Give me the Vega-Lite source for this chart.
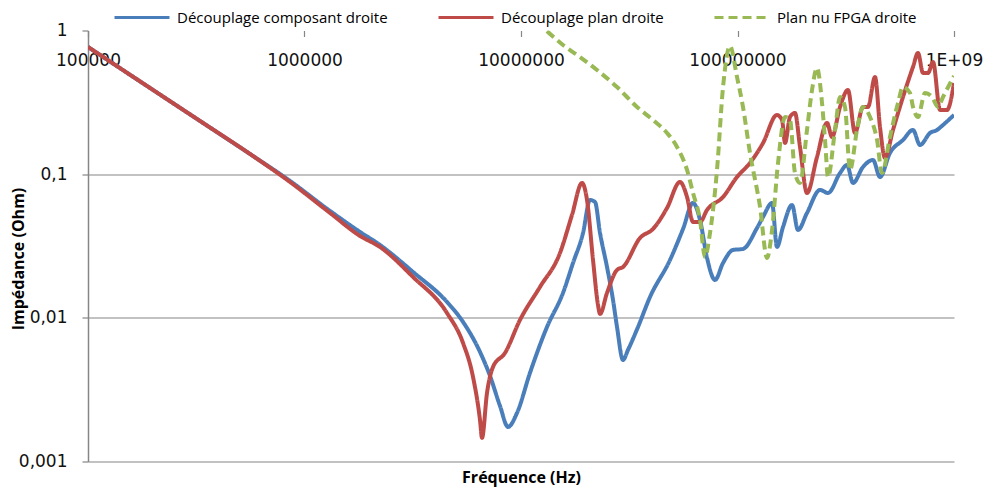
{
  "$schema": "https://vega.github.io/schema/vega-lite/v6.json",
  "width": 866,
  "height": 431,
  "autosize": {"type": "none"},
  "padding": {"left": 88, "top": 30.5, "right": 30, "bottom": 26.5},
  "background": "white",
  "config": {"view": {"stroke": null}},
  "datasets": {
    "pts": [
      {"f": 100000, "z": 0.768, "s": "Découplage composant droite"},
      {"f": 193400, "z": 0.398, "s": "Découplage composant droite"},
      {"f": 329100, "z": 0.2346, "s": "Découplage composant droite"},
      {"f": 560200, "z": 0.1382, "s": "Découplage composant droite"},
      {"f": 857000, "z": 0.0897, "s": "Découplage composant droite"},
      {"f": 1312000, "z": 0.05544, "s": "Découplage composant droite"},
      {"f": 1805000, "z": 0.03961, "s": "Découplage composant droite"},
      {"f": 2232000, "z": 0.03216, "s": "Découplage composant droite"},
      {"f": 3171000, "z": 0.02087, "s": "Découplage composant droite"},
      {"f": 4551000, "z": 0.0129, "s": "Découplage composant droite"},
      {"f": 5397000, "z": 0.009366, "s": "Découplage composant droite"},
      {"f": 6465000, "z": 0.005789, "s": "Découplage composant droite"},
      {"f": 7193000, "z": 0.003941, "s": "Découplage composant droite"},
      {"f": 7998000, "z": 0.002437, "s": "Découplage composant droite"},
      {"f": 8710000, "z": 0.00174, "s": "Découplage composant droite"},
      {"f": 9585000, "z": 0.002179, "s": "Découplage composant droite"},
      {"f": 11000000, "z": 0.004135, "s": "Découplage composant droite"},
      {"f": 13190000, "z": 0.008645, "s": "Découplage composant droite"},
      {"f": 15630000, "z": 0.01491, "s": "Découplage composant droite"},
      {"f": 17390000, "z": 0.0241, "s": "Découplage composant droite"},
      {"f": 19340000, "z": 0.03898, "s": "Découplage composant droite"},
      {"f": 20830000, "z": 0.06613, "s": "Découplage composant droite"},
      {"f": 21970000, "z": 0.06405, "s": "Découplage composant droite"},
      {"f": 23170000, "z": 0.03898, "s": "Découplage composant droite"},
      {"f": 24960000, "z": 0.02261, "s": "Découplage composant droite"},
      {"f": 26610000, "z": 0.01332, "s": "Découplage composant droite"},
      {"f": 27760000, "z": 0.008645, "s": "Découplage composant droite"},
      {"f": 29590000, "z": 0.005093, "s": "Découplage composant droite"},
      {"f": 31200000, "z": 0.005977, "s": "Découplage composant droite"},
      {"f": 34720000, "z": 0.008645, "s": "Découplage composant droite"},
      {"f": 39440000, "z": 0.01397, "s": "Découplage composant droite"},
      {"f": 48780000, "z": 0.02529, "s": "Découplage composant droite"},
      {"f": 56020000, "z": 0.04156, "s": "Découplage composant droite"},
      {"f": 62310000, "z": 0.06304, "s": "Découplage composant droite"},
      {"f": 67120000, "z": 0.04801, "s": "Découplage composant droite"},
      {"f": 72330000, "z": 0.02611, "s": "Découplage composant droite"},
      {"f": 78720000, "z": 0.01835, "s": "Découplage composant droite"},
      {"f": 85750000, "z": 0.0241, "s": "Découplage composant droite"},
      {"f": 95340000, "z": 0.02969, "s": "Découplage composant droite"},
      {"f": 106000000, "z": 0.03017, "s": "Découplage composant droite"},
      {"f": 123100000, "z": 0.04223, "s": "Découplage composant droite"},
      {"f": 131200000, "z": 0.05038, "s": "Découplage composant droite"},
      {"f": 144400000, "z": 0.06304, "s": "Découplage composant droite"},
      {"f": 152200000, "z": 0.03114, "s": "Découplage composant droite"},
      {"f": 162300000, "z": 0.04291, "s": "Découplage composant droite"},
      {"f": 178600000, "z": 0.06105, "s": "Découplage composant droite"},
      {"f": 190300000, "z": 0.04089, "s": "Découplage composant droite"},
      {"f": 209400000, "z": 0.0537, "s": "Découplage composant droite"},
      {"f": 240500000, "z": 0.07762, "s": "Découplage composant droite"},
      {"f": 261900000, "z": 0.07398, "s": "Découplage composant droite"},
      {"f": 297600000, "z": 0.1019, "s": "Découplage composant droite"},
      {"f": 320500000, "z": 0.1159, "s": "Découplage composant droite"},
      {"f": 341600000, "z": 0.08686, "s": "Découplage composant droite"},
      {"f": 379900000, "z": 0.1122, "s": "Découplage composant droite"},
      {"f": 422500000, "z": 0.1256, "s": "Découplage composant droite"},
      {"f": 455100000, "z": 0.09561, "s": "Découplage composant droite"},
      {"f": 506100000, "z": 0.1405, "s": "Découplage composant droite"},
      {"f": 581300000, "z": 0.173, "s": "Découplage composant droite"},
      {"f": 646500000, "z": 0.203, "s": "Découplage composant droite"},
      {"f": 696600000, "z": 0.1596, "s": "Découplage composant droite"},
      {"f": 774800000, "z": 0.1935, "s": "Découplage composant droite"},
      {"f": 834600000, "z": 0.203, "s": "Découplage composant droite"},
      {"f": 889700000, "z": 0.22, "s": "Découplage composant droite"},
      {"f": 1000000000, "z": 0.2582, "s": "Découplage composant droite"},

      {"f": 100000, "z": 0.768, "s": "Découplage plan droite"},
      {"f": 193400, "z": 0.398, "s": "Découplage plan droite"},
      {"f": 329100, "z": 0.2346, "s": "Découplage plan droite"},
      {"f": 560200, "z": 0.1382, "s": "Découplage plan droite"},
      {"f": 857000, "z": 0.08825, "s": "Découplage plan droite"},
      {"f": 1312000, "z": 0.0537, "s": "Découplage plan droite"},
      {"f": 1805000, "z": 0.03714, "s": "Découplage plan droite"},
      {"f": 2232000, "z": 0.03114, "s": "Découplage plan droite"},
      {"f": 3171000, "z": 0.01926, "s": "Découplage plan droite"},
      {"f": 4551000, "z": 0.01081, "s": "Découplage plan droite"},
      {"f": 5397000, "z": 0.00669, "s": "Découplage plan droite"},
      {"f": 6002000, "z": 0.003879, "s": "Découplage plan droite"},
      {"f": 6465000, "z": 0.001948, "s": "Découplage plan droite"},
      {"f": 6605000, "z": 0.00146, "s": "Découplage plan droite"},
      {"f": 6966000, "z": 0.003001, "s": "Découplage plan droite"},
      {"f": 7425000, "z": 0.004553, "s": "Découplage plan droite"},
      {"f": 8435000, "z": 0.005697, "s": "Découplage plan droite"},
      {"f": 9894000, "z": 0.00967, "s": "Découplage plan droite"},
      {"f": 12240000, "z": 0.01641, "s": "Découplage plan droite"},
      {"f": 15140000, "z": 0.02829, "s": "Découplage plan droite"},
      {"f": 17200000, "z": 0.052, "s": "Découplage plan droite"},
      {"f": 19130000, "z": 0.08686, "s": "Découplage plan droite"},
      {"f": 20180000, "z": 0.06613, "s": "Découplage plan droite"},
      {"f": 21510000, "z": 0.02529, "s": "Découplage plan droite"},
      {"f": 22680000, "z": 0.01229, "s": "Découplage plan droite"},
      {"f": 23170000, "z": 0.01064, "s": "Découplage plan droite"},
      {"f": 24960000, "z": 0.01491, "s": "Découplage plan droite"},
      {"f": 27760000, "z": 0.02155, "s": "Découplage plan droite"},
      {"f": 29590000, "z": 0.02261, "s": "Découplage plan droite"},
      {"f": 35460000, "z": 0.03597, "s": "Découplage plan droite"},
      {"f": 40710000, "z": 0.04156, "s": "Découplage plan droite"},
      {"f": 47250000, "z": 0.05816, "s": "Découplage plan droite"},
      {"f": 54260000, "z": 0.08825, "s": "Découplage plan droite"},
      {"f": 58460000, "z": 0.06939, "s": "Découplage plan droite"},
      {"f": 62310000, "z": 0.0465, "s": "Découplage plan droite"},
      {"f": 67120000, "z": 0.0465, "s": "Découplage plan droite"},
      {"f": 72330000, "z": 0.05633, "s": "Découplage plan droite"},
      {"f": 85750000, "z": 0.06939, "s": "Découplage plan droite"},
      {"f": 99470000, "z": 0.09561, "s": "Découplage plan droite"},
      {"f": 114200000, "z": 0.1197, "s": "Découplage plan droite"},
      {"f": 131200000, "z": 0.1649, "s": "Découplage plan droite"},
      {"f": 152200000, "z": 0.2582, "s": "Découplage plan droite"},
      {"f": 160600000, "z": 0.2383, "s": "Découplage plan droite"},
      {"f": 165800000, "z": 0.1649, "s": "Découplage plan droite"},
      {"f": 174800000, "z": 0.25, "s": "Découplage plan droite"},
      {"f": 184300000, "z": 0.2666, "s": "Découplage plan droite"},
      {"f": 194400000, "z": 0.1546, "s": "Découplage plan droite"},
      {"f": 209400000, "z": 0.07398, "s": "Découplage plan droite"},
      {"f": 232900000, "z": 0.1317, "s": "Découplage plan droite"},
      {"f": 259100000, "z": 0.2272, "s": "Découplage plan droite"},
      {"f": 273300000, "z": 0.1815, "s": "Découplage plan droite"},
      {"f": 297600000, "z": 0.2936, "s": "Découplage plan droite"},
      {"f": 323800000, "z": 0.3855, "s": "Découplage plan droite"},
      {"f": 348900000, "z": 0.1935, "s": "Découplage plan droite"},
      {"f": 379900000, "z": 0.2936, "s": "Découplage plan droite"},
      {"f": 400600000, "z": 0.2936, "s": "Découplage plan droite"},
      {"f": 431700000, "z": 0.4748, "s": "Découplage plan droite"},
      {"f": 455100000, "z": 0.2131, "s": "Découplage plan droite"},
      {"f": 480000000, "z": 0.1297, "s": "Découplage plan droite"},
      {"f": 522700000, "z": 0.203, "s": "Découplage plan droite"},
      {"f": 581300000, "z": 0.3446, "s": "Découplage plan droite"},
      {"f": 646500000, "z": 0.5572, "s": "Découplage plan droite"},
      {"f": 682000000, "z": 0.6973, "s": "Découplage plan droite"},
      {"f": 719300000, "z": 0.506, "s": "Découplage plan droite"},
      {"f": 758600000, "z": 0.506, "s": "Découplage plan droite"},
      {"f": 800000000, "z": 0.6036, "s": "Découplage plan droite"},
      {"f": 861900000, "z": 0.2797, "s": "Découplage plan droite"},
      {"f": 928400000, "z": 0.2797, "s": "Découplage plan droite"},
      {"f": 1000000000, "z": 0.4311, "s": "Découplage plan droite"},

      {"f": 13190000, "z": 0.99, "s": "Plan nu FPGA droite"},
      {"f": 15630000, "z": 0.7925, "s": "Plan nu FPGA droite"},
      {"f": 18730000, "z": 0.6539, "s": "Plan nu FPGA droite"},
      {"f": 22440000, "z": 0.5311, "s": "Plan nu FPGA droite"},
      {"f": 27760000, "z": 0.4044, "s": "Plan nu FPGA droite"},
      {"f": 34350000, "z": 0.2936, "s": "Plan nu FPGA droite"},
      {"f": 40710000, "z": 0.2383, "s": "Plan nu FPGA droite"},
      {"f": 47250000, "z": 0.1935, "s": "Plan nu FPGA droite"},
      {"f": 52560000, "z": 0.1546, "s": "Plan nu FPGA droite"},
      {"f": 58460000, "z": 0.107, "s": "Plan nu FPGA droite"},
      {"f": 62310000, "z": 0.07398, "s": "Plan nu FPGA droite"},
      {"f": 67120000, "z": 0.04801, "s": "Plan nu FPGA droite"},
      {"f": 70780000, "z": 0.02653, "s": "Plan nu FPGA droite"},
      {"f": 74650000, "z": 0.03898, "s": "Plan nu FPGA droite"},
      {"f": 80420000, "z": 0.107, "s": "Plan nu FPGA droite"},
      {"f": 85750000, "z": 0.4044, "s": "Plan nu FPGA droite"},
      {"f": 92360000, "z": 0.78, "s": "Plan nu FPGA droite"},
      {"f": 99470000, "z": 0.4748, "s": "Plan nu FPGA droite"},
      {"f": 106000000, "z": 0.2936, "s": "Plan nu FPGA droite"},
      {"f": 114200000, "z": 0.1405, "s": "Plan nu FPGA droite"},
      {"f": 127100000, "z": 0.05909, "s": "Plan nu FPGA droite"},
      {"f": 136900000, "z": 0.02611, "s": "Plan nu FPGA droite"},
      {"f": 144400000, "z": 0.04089, "s": "Plan nu FPGA droite"},
      {"f": 153900000, "z": 0.1197, "s": "Plan nu FPGA droite"},
      {"f": 165800000, "z": 0.25, "s": "Plan nu FPGA droite"},
      {"f": 174800000, "z": 0.2383, "s": "Plan nu FPGA droite"},
      {"f": 184300000, "z": 0.1019, "s": "Plan nu FPGA droite"},
      {"f": 194400000, "z": 0.08686, "s": "Plan nu FPGA droite"},
      {"f": 209400000, "z": 0.203, "s": "Plan nu FPGA droite"},
      {"f": 220900000, "z": 0.3855, "s": "Plan nu FPGA droite"},
      {"f": 232900000, "z": 0.5483, "s": "Plan nu FPGA droite"},
      {"f": 245700000, "z": 0.313, "s": "Plan nu FPGA droite"},
      {"f": 253700000, "z": 0.173, "s": "Plan nu FPGA droite"},
      {"f": 261900000, "z": 0.09561, "s": "Plan nu FPGA droite"},
      {"f": 282100000, "z": 0.203, "s": "Plan nu FPGA droite"},
      {"f": 297600000, "z": 0.3446, "s": "Plan nu FPGA droite"},
      {"f": 313700000, "z": 0.2936, "s": "Plan nu FPGA droite"},
      {"f": 330900000, "z": 0.107, "s": "Plan nu FPGA droite"},
      {"f": 356500000, "z": 0.203, "s": "Plan nu FPGA droite"},
      {"f": 379900000, "z": 0.2936, "s": "Plan nu FPGA droite"},
      {"f": 409400000, "z": 0.25, "s": "Plan nu FPGA droite"},
      {"f": 441100000, "z": 0.173, "s": "Plan nu FPGA droite"},
      {"f": 465000000, "z": 0.1019, "s": "Plan nu FPGA droite"},
      {"f": 506100000, "z": 0.1815, "s": "Plan nu FPGA droite"},
      {"f": 551300000, "z": 0.313, "s": "Plan nu FPGA droite"},
      {"f": 581300000, "z": 0.4044, "s": "Plan nu FPGA droite"},
      {"f": 626300000, "z": 0.3673, "s": "Plan nu FPGA droite"},
      {"f": 646500000, "z": 0.2936, "s": "Plan nu FPGA droite"},
      {"f": 682000000, "z": 0.25, "s": "Plan nu FPGA droite"},
      {"f": 734600000, "z": 0.3673, "s": "Plan nu FPGA droite"},
      {"f": 791400000, "z": 0.3446, "s": "Plan nu FPGA droite"},
      {"f": 843700000, "z": 0.2936, "s": "Plan nu FPGA droite"},
      {"f": 889700000, "z": 0.3446, "s": "Plan nu FPGA droite"},
      {"f": 1000000000, "z": 0.4825, "s": "Plan nu FPGA droite"}
    ]
  },
  "data": {"name": "pts"},
  "mark": {"type": "line", "strokeWidth": 4, "interpolate": "monotone", "clip": true},
  "encoding": {
    "x": {
      "field": "f", "type": "quantitative",
      "scale": {"type": "log", "domain": [100000, 1000000000], "nice": false},
      "axis": {
        "orient": "bottom", "offset": -431,
        "title": "Fréquence (Hz)",
        "values": [100000, 1000000, 10000000, 100000000, 1000000000],
        "labelExpr": "datum.value >= 1e9 ? '1E+09' : format(datum.value, 'd')",
        "grid": false, "domain": false,
        "ticks": true, "tickColor": "#868686", "tickSize": 6, "tickWidth": 1.2,
        "labelFlush": false, "labelOverlap": false,
        "labelFont": "DejaVu Sans", "labelFontSize": 17, "labelColor": "#111111",
        "labelPadding": 16,
        "titleFont": "Open Sans", "titleFontSize": 16, "titleFontWeight": "bold", "titleColor": "#000000",
        "titleX": 433, "titleY": 447, "titleAlign": "center", "titleBaseline": "middle"
      }
    },
    "y": {
      "field": "z", "type": "quantitative",
      "scale": {"type": "log", "domain": [0.001, 1], "nice": false},
      "axis": {
        "title": "Impédance (Ohm)",
        "values": [0.001, 0.01, 0.1, 1],
        "labelExpr": "datum.value >= 1 ? '1' : datum.value >= 0.1 ? '0,1' : datum.value >= 0.01 ? '0,01' : '0,001'",
        "grid": true, "gridColor": "#868686", "gridWidth": 1.2,
        "gridOpacity": {"condition": {"test": "datum.value >= 1", "value": 0}, "value": 1},
        "domainColor": "#868686", "domainWidth": 1.5,
        "tickColor": "#868686", "tickSize": 6, "tickWidth": 1.2,
        "labelFont": "DejaVu Sans", "labelFontSize": 17, "labelColor": "#111111",
        "labelPadding": 15, "labelOverlap": false, "labelFlush": false,
        "titleFont": "Open Sans", "titleFontSize": 16, "titleFontWeight": "bold", "titleColor": "#000000",
        "titleX": -70, "titleY": 228, "titleAngle": -90, "titleAlign": "center", "titleBaseline": "middle"
      }
    },
    "color": {
      "field": "s", "type": "nominal",
      "scale": {"domain": ["Découplage composant droite", "Découplage plan droite", "Plan nu FPGA droite"], "range": ["#4A7EBB", "#BE4B48", "#98B954"]},
      "legend": {
        "orient": "none", "legendX": 25, "legendY": -42, "direction": "horizontal",
        "title": null, "symbolType": "stroke", "symbolSize": 3025, "symbolStrokeWidth": 3,
        "labelFont": "Open Sans", "labelFontSize": 15, "labelColor": "#000000", "labelOffset": 6, "labelLimit": 0,
        "columnPadding": 44, "gridAlign": "none"
      }
    },
    "strokeDash": {
      "field": "s", "type": "nominal",
      "scale": {"domain": ["Découplage composant droite", "Découplage plan droite", "Plan nu FPGA droite"], "range": [[1, 0], [1, 0], [9, 5]]},
      "legend": {
        "orient": "none", "legendX": 25, "legendY": -42, "direction": "horizontal",
        "title": null, "symbolType": "stroke", "symbolSize": 3025, "symbolStrokeWidth": 3,
        "labelFont": "Open Sans", "labelFontSize": 15, "labelColor": "#000000", "labelOffset": 6, "labelLimit": 0,
        "columnPadding": 44, "gridAlign": "none"
      }
    }
  }
}
